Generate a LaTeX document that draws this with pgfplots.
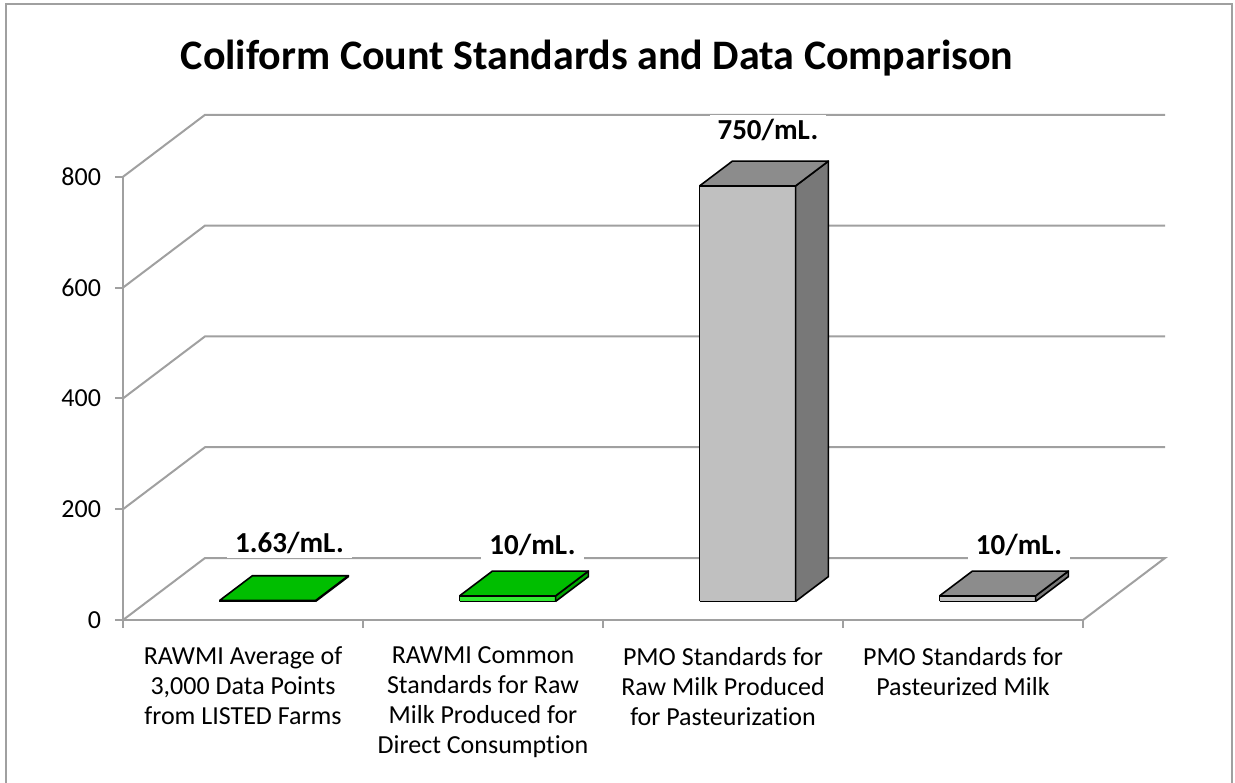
\documentclass[border=0pt]{standalone}
\usepackage{pgfplots}
\pgfplotsset{compat=1.18}
\usepackage{fontspec}
\setmainfont{Carlito}[Ligatures=NoCommon]
\definecolor{gridc}{RGB}{160,160,160}
\definecolor{gtop}{RGB}{0,190,0}
\definecolor{gfront}{RGB}{50,235,50}
\definecolor{gside}{RGB}{0,165,0}
\definecolor{ktop}{RGB}{140,140,140}
\definecolor{kfront}{RGB}{192,192,192}
\definecolor{kside}{RGB}{120,120,120}
% #1 x0, #2 x1, #3 value, #4 front, #5 side, #6 top
\newcommand\drawbar[6]{%
  \addplot3[fill=#4, draw=black, line width=0.8pt, line join=round] coordinates {(#1,0.3,0) (#2,0.3,0) (#2,0.3,#3) (#1,0.3,#3) (#1,0.3,0)};
  \addplot3[fill=#5, draw=black, line width=0.8pt, line join=round] coordinates {(#2,0.3,0) (#2,0.7,0) (#2,0.7,#3) (#2,0.3,#3) (#2,0.3,0)};
  \addplot3[fill=#6, draw=black, line width=0.8pt, line join=round] coordinates {(#1,0.3,#3) (#2,0.3,#3) (#2,0.7,#3) (#1,0.7,#3) (#1,0.3,#3)};
}
\begin{document}
\begin{tikzpicture}
% outer frame
\draw[gridc, line width=1pt] (-58.5pt,-90pt) -- (-58.5pt,308pt) -- (554.5pt,308pt) -- (554.5pt,-90pt);
% title
\node[font=\bfseries\fontsize{21pt}{25pt}\selectfont] at (237pt,281pt) {Coliform Count Standards and Data Comparison};
% 3D part: walls, bars, value labels
\begin{axis}[
  x={(120pt,0pt)}, y={(41pt,31pt)}, z={(0pt,0.277pt)},
  xmin=0, xmax=4, ymin=0, ymax=1, zmin=0, zmax=800,
  hide axis, clip=false,
  anchor=origin, at={(0pt,0pt)},
]
\addplot3[gridc, line width=1pt] coordinates {(0,0,0) (0,1,0) (4,1,0) (4,0,0)};
\addplot3[gridc, line width=1pt] coordinates {(0,0,200) (0,1,200) (4,1,200)};
\addplot3[gridc, line width=1pt] coordinates {(0,0,400) (0,1,400) (4,1,400)};
\addplot3[gridc, line width=1pt] coordinates {(0,0,600) (0,1,600) (4,1,600)};
\addplot3[gridc, line width=1pt] coordinates {(0,0,800) (0,1,800) (4,1,800)};
\drawbar{0.3}{0.7}{1.63}{gfront}{gside}{gtop}
\drawbar{1.3}{1.7}{10}{gfront}{gside}{gtop}
\drawbar{2.3}{2.7}{750}{kfront}{kside}{ktop}
\drawbar{3.3}{3.7}{10}{kfront}{kside}{ktop}
\tikzset{vlab/.style={font=\bfseries\fontsize{14.5pt}{17pt}\selectfont, fill=white, inner xsep=4pt, inner ysep=2pt}}
\node[vlab, xshift=2.75pt, yshift=22.5pt] at (axis cs:0.5,0.5,1.63) {1.63/mL.};
\node[vlab, xshift=4.25pt, yshift=19.25pt] at (axis cs:1.5,0.5,10) {10/mL.};
\node[vlab, xshift=2pt, yshift=21.75pt] at (axis cs:2.5,0.5,750) {750/mL.};
\node[vlab, xshift=7.5pt, yshift=19.25pt] at (axis cs:3.5,0.5,10) {10/mL.};
\end{axis}
% front axes with ticks and labels
\begin{axis}[
  at={(0pt,0pt)}, anchor=origin,
  scale only axis, width=480pt, height=221.6pt,
  xmin=0, xmax=4, ymin=0, ymax=800,
  axis x line*=bottom, axis y line*=left,
  axis line style={gridc, line width=1pt},
  xtick={0,1,2,3,4}, xticklabels={},
  ytick={0,200,400,600,800},
  tick align=outside, major tick length=4pt,
  tick style={gridc, line width=1pt},
  /pgf/number format/assume math mode=true,
  tick label style={font=\fontsize{13pt}{15pt}\selectfont, text=black},
  yticklabel style={xshift=-3.5pt},
  extra x ticks={0.5,1.5,2.5,3.5},
  extra x tick labels={{RAWMI Average of\\3,000 Data Points\\from LISTED Farms},
    {RAWMI Common\\Standards for Raw\\Milk Produced for\\Direct Consumption},
    {PMO Standards for\\Raw Milk Produced\\for Pasteurization},
    {PMO Standards for\\Pasteurized Milk}},
  extra x tick style={major tick length=0pt, tick label style={align=center, anchor=north, yshift=-10pt}},
]
\end{axis}
\pgfresetboundingbox
\path[use as bounding box] (-61.5pt,-81pt) rectangle (556pt,310pt);
\end{tikzpicture}
\end{document}
